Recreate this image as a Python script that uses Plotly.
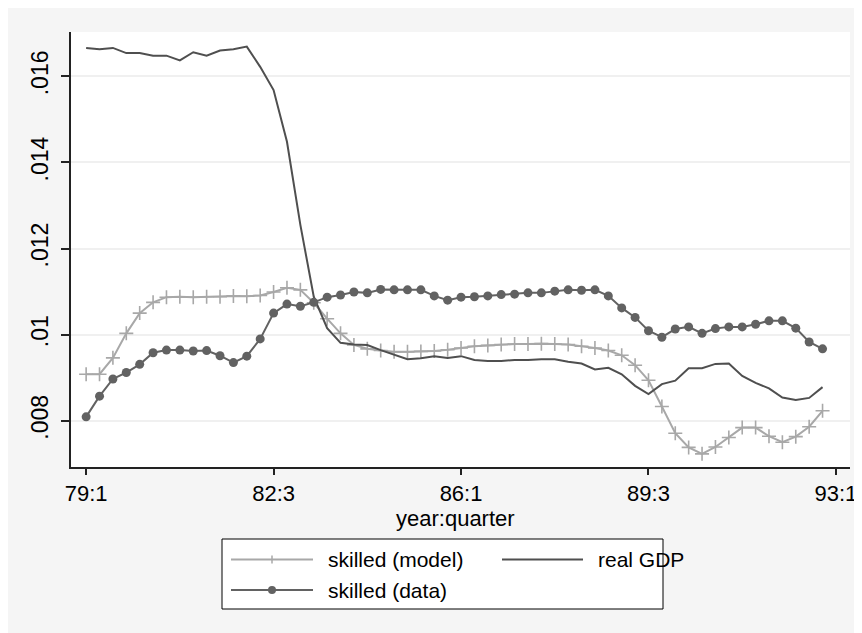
import plotly.graph_objects as go

# quarter index 0 = 79:1 ... 55 = 92:4
quarter_idx = list(range(56))
tick_pos = [0, 14, 28, 42, 56]
tick_labels = ["79:1", "82:3", "86:1", "89:3", "93:1"]
y_ticks = [0.008, 0.010, 0.012, 0.014, 0.016]
y_tick_labels = [".008", ".01", ".012", ".014", ".016"]
x_title = "year:quarter"

skilled_model = [
    0.00908, 0.00908, 0.00946, 0.01003, 0.01050, 0.01075, 0.01087, 0.01088, 0.01087, 0.01088,
    0.01088, 0.01090, 0.01089, 0.01091, 0.01099, 0.01109, 0.01104, 0.01074, 0.01037, 0.01003,
    0.00976, 0.00967, 0.00963, 0.00960, 0.00960, 0.00961, 0.00962, 0.00965, 0.00969, 0.00973,
    0.00975, 0.00977, 0.00978, 0.00978, 0.00979, 0.00978, 0.00977, 0.00973, 0.00969, 0.00963,
    0.00952, 0.00929, 0.00894, 0.00833, 0.00771, 0.00738, 0.00723, 0.00739, 0.00761, 0.00784,
    0.00784, 0.00764, 0.00750, 0.00763, 0.00786, 0.00823,
]

skilled_data = [
    0.00809, 0.00857, 0.00897, 0.00912, 0.00931, 0.00958, 0.00964, 0.00964, 0.00962, 0.00963,
    0.00951, 0.00935, 0.00950, 0.00990, 0.01050, 0.01071, 0.01066, 0.01075, 0.01087, 0.01092,
    0.01099, 0.01097, 0.01105, 0.01104, 0.01104, 0.01104, 0.01090, 0.01080, 0.01087, 0.01088,
    0.01090, 0.01093, 0.01094, 0.01097, 0.01097, 0.01101, 0.01104, 0.01103, 0.01104, 0.01090,
    0.01062, 0.01040, 0.01009, 0.00994, 0.01013, 0.01018, 0.01003, 0.01014, 0.01018, 0.01018,
    0.01024, 0.01032, 0.01032, 0.01015, 0.00983, 0.00967,
]

real_gdp = [
    0.01666, 0.01663, 0.01666, 0.01654, 0.01654, 0.01648, 0.01648, 0.01637, 0.01656, 0.01648,
    0.01660, 0.01663, 0.01669, 0.01622, 0.01568, 0.01448, 0.01255, 0.01088, 0.01015, 0.00981,
    0.00977, 0.00976, 0.00964, 0.00953, 0.00943, 0.00945, 0.00950, 0.00946, 0.00950, 0.00941,
    0.00939, 0.00939, 0.00941, 0.00941, 0.00943, 0.00943, 0.00937, 0.00933, 0.00919, 0.00923,
    0.00908, 0.00881, 0.00862, 0.00885, 0.00893, 0.00922, 0.00922, 0.00932, 0.00933, 0.00904,
    0.00888, 0.00875, 0.00854, 0.00848, 0.00853, 0.00878,
]

C_MODEL = "#a8a8a8"
C_DATA = "#626262"
C_GDP = "#4f4f4f"
FONT = "Liberation Sans, Arial, sans-serif"
FS_TICK = 23
FS_XTICK = 22
FS_TITLE = 22
FS_LEG = 21

OFF = 8                      # page body margin
W, H = 862 - OFF, 633 - OFF
# plot area in page pixels
L, R, T, B = 71, 850, 32, 467


def px(x):
    return (x - L) / (R - L)


def py(y):
    return (B - y) / (B - T)


fig = go.Figure()
fig.add_trace(go.Scatter(
    x=quarter_idx, y=skilled_model, mode="lines+markers", name="skilled (model)",
    line=dict(color=C_MODEL, width=2),
    marker=dict(symbol="cross-thin", size=10, line=dict(color=C_MODEL, width=1.6), color=C_MODEL),
    showlegend=False,
))
fig.add_trace(go.Scatter(
    x=quarter_idx, y=real_gdp, mode="lines", name="real GDP",
    line=dict(color=C_GDP, width=2), showlegend=False,
))
fig.add_trace(go.Scatter(
    x=quarter_idx, y=skilled_data, mode="lines+markers", name="skilled (data)",
    line=dict(color=C_DATA, width=2),
    marker=dict(symbol="circle", size=9, color=C_DATA),
    showlegend=False,
))

shapes = []
# custom legend box
shapes.append(dict(type="rect", xref="paper", yref="paper",
                   x0=px(222), x1=px(663), y0=py(609), y1=py(539),
                   fillcolor="white", line=dict(color="black", width=1)))
row1, row2 = 559.5, 590
shapes.append(dict(type="line", xref="paper", yref="paper",
                   x0=px(231), x1=px(313), y0=py(row1), y1=py(row1),
                   line=dict(color=C_MODEL, width=2)))
shapes.append(dict(type="line", xref="paper", yref="paper",
                   x0=px(272), x1=px(272), y0=py(row1 - 4), y1=py(row1 + 4),
                   line=dict(color=C_MODEL, width=1.5)))
shapes.append(dict(type="line", xref="paper", yref="paper",
                   x0=px(502), x1=px(583), y0=py(row1), y1=py(row1),
                   line=dict(color=C_GDP, width=2)))
shapes.append(dict(type="line", xref="paper", yref="paper",
                   x0=px(231), x1=px(313), y0=py(row2), y1=py(row2),
                   line=dict(color=C_DATA, width=2)))
shapes.append(dict(type="circle", xref="paper", yref="paper",
                   x0=px(268), x1=px(276), y0=py(row2 + 4), y1=py(row2 - 4),
                   fillcolor=C_DATA, line=dict(color=C_DATA, width=0)))

leg_font = dict(size=FS_LEG, color="black", family=FONT)
annotations = [
    dict(text="skilled (model)", x=px(326), y=py(row1), xref="paper", yref="paper",
         xanchor="left", yanchor="middle", showarrow=False, font=leg_font),
    dict(text="real GDP", x=px(596), y=py(row1), xref="paper", yref="paper",
         xanchor="left", yanchor="middle", showarrow=False, font=leg_font),
    dict(text="skilled (data)", x=px(326), y=py(row2), xref="paper", yref="paper",
         xanchor="left", yanchor="middle", showarrow=False, font=leg_font),
    dict(text=x_title, x=px(455), y=py(518), xref="paper", yref="paper",
         xanchor="center", yanchor="middle", showarrow=False,
         font=dict(size=FS_TITLE, color="black", family=FONT)),
]

fig.update_layout(
    width=W, height=H,
    margin=dict(l=L - OFF, r=862 - R, t=T - OFF, b=633 - B, autoexpand=False),
    paper_bgcolor="#f5f5f5",
    plot_bgcolor="white",
    font=dict(family=FONT, size=FS_TICK, color="black"),
    shapes=shapes,
    annotations=annotations,
    showlegend=False,
    xaxis=dict(
        range=[-1.13, 57.05], tickmode="array", tickvals=tick_pos, ticktext=tick_labels,
        ticks="outside", ticklen=6, tickwidth=1.5, tickcolor="#222",
        showline=True, linecolor="#222", linewidth=1.5, showgrid=False, zeroline=False,
        tickfont=dict(size=FS_XTICK), automargin=False,
    ),
    yaxis=dict(
        range=[0.006925, 0.01703], tickmode="array", tickvals=y_ticks, ticktext=y_tick_labels,
        ticks="outside", ticklen=8, tickwidth=1.5, tickcolor="#222", tickangle=-90,
        ticklabelstandoff=4, automargin=False,
        showline=True, linecolor="#222", linewidth=1.5,
        showgrid=True, gridcolor="#f0f0f0", gridwidth=1.5, zeroline=False,
        tickfont=dict(size=FS_TICK),
    ),
)

fig.write_html("out.html")
